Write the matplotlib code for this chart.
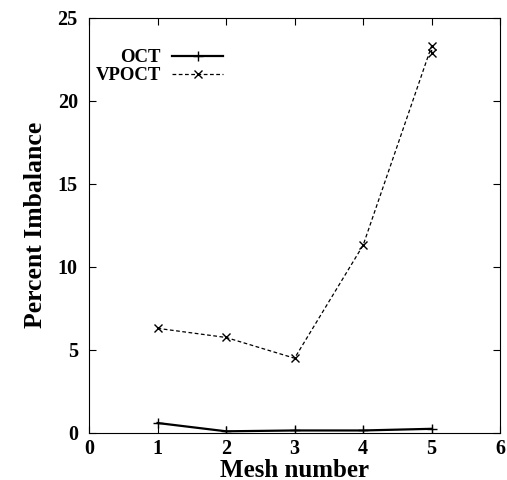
import matplotlib
matplotlib.use('Agg')
import matplotlib.pyplot as plt

# mesh number vs percent imbalance
oct_mesh = [1, 2, 3, 4, 5]
oct_imbalance = [0.6, 0.1, 0.15, 0.15, 0.25]

vpoct_mesh = [1, 2, 3, 4, 5, 5]
vpoct_imbalance = [6.3, 5.75, 4.5, 11.3, 23.3, 22.9]

x_ticks = [0, 1, 2, 3, 4, 5, 6]
y_ticks = [0, 5, 10, 15, 20, 25]

plt.rcParams['font.family'] = ['Liberation Serif', 'DejaVu Serif']
plt.rcParams['font.weight'] = 'bold'

fig = plt.figure(figsize=(5.07, 4.8), dpi=100)
ax = fig.add_axes([0.1755, 0.098, 0.811, 0.865])

ax.plot(oct_mesh, oct_imbalance, color='black', linestyle='-', linewidth=1.6,
        marker='+', markersize=7, markeredgewidth=1.0, label='OCT')
ax.plot(vpoct_mesh, vpoct_imbalance, color='black', linestyle=(0, (3, 2)), linewidth=0.9,
        marker='x', markersize=6, markeredgewidth=1.0, label='VPOCT')

ax.set_xlim(0, 6)
ax.set_ylim(0, 25)
ax.set_xticks(x_ticks)
ax.set_yticks(y_ticks)
ax.tick_params(direction='in', top=True, right=True, length=5, labelsize=14.5)
ax.tick_params(axis='x', pad=4)
ax.tick_params(axis='y', pad=8)
for lbl in ax.get_xticklabels() + ax.get_yticklabels():
    lbl.set_fontweight('bold')

ax.set_xlabel('Mesh number', fontsize=18, fontweight='bold', labelpad=0)
ax.set_ylabel('Percent Imbalance', fontsize=18.5, fontweight='bold', labelpad=8)

leg = ax.legend(loc='upper left', bbox_to_anchor=(-0.025, 0.965), frameon=False, markerfirst=False,
                prop={'size': 13.5, 'weight': 'bold'}, handlelength=2.7, labelspacing=0.05,
                handletextpad=0.6)

fig.savefig('out.png', dpi=100)
